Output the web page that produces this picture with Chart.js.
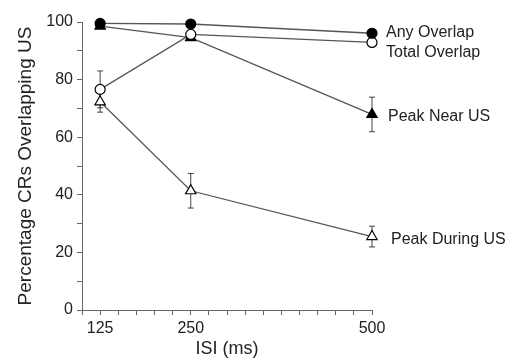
<!DOCTYPE html>
<html>
<head>
<meta charset="utf-8">
<script src="https://cdn.jsdelivr.net/npm/chart.js@4.4.1/dist/chart.umd.min.js"></script>
<style>
    body { margin: 0; background: #ffffff; }
    #grafico { display: block; }
</style>
</head>
<body>
<canvas id="grafico" width="508" height="361"></canvas>
<script>
var isi = [125, 250, 500];
var anyOverlap = [99.5, 99.3, 96.1];
var totalOverlap = [76.6, 95.7, 92.9];
var peakNear = [98.6, 94.6, 67.9];
var peakDuring = [72.3, 41.4, 25.5];

// error bars (sem)
var anyOverlapErr = [0, 0, 0];
var totalOverlapErr = [6.4, 0, 0];
var peakNearErr = [0, 0, 6.0];
var peakDuringErr = [3.6, 6.0, 3.6];

var nomesSeries = ['Any Overlap', 'Total Overlap', 'Peak Near US', 'Peak During US'];
var xTicksLabel = [125, 250, 500];
var yTicksLabel = [0, 20, 40, 60, 80, 100];

function pontos(valores) {
    return isi.map(function (x, i) {
        return { x: x, y: valores[i] };
    });
}

var corLinha = '#555555';
var corTexto = '#222222';

// draws the error bars behind the markers
var errorBars = {
    id: 'errorBars',
    beforeDatasetsDraw: function (chart) {
        var ctx = chart.ctx;
        var yScale = chart.scales.y;
        ctx.save();
        ctx.strokeStyle = '#444444';
        ctx.lineWidth = 1;
        chart.data.datasets.forEach(function (ds, d) {
            var meta = chart.getDatasetMeta(d);
            ds.erros.forEach(function (e, i) {
                if (!e) return;
                var px = meta.data[i].x;
                var y1 = yScale.getPixelForValue(ds.data[i].y + e);
                var y2 = yScale.getPixelForValue(ds.data[i].y - e);
                ctx.beginPath();
                ctx.moveTo(px, y1);
                ctx.lineTo(px, y2);
                ctx.moveTo(px - 3, y1);
                ctx.lineTo(px + 3, y1);
                ctx.moveTo(px - 3, y2);
                ctx.lineTo(px + 3, y2);
                ctx.stroke();
            });
        });
        ctx.restore();
    }
};

// series names to the right of the last point
var rotulos = {
    id: 'rotulos',
    afterDatasetsDraw: function (chart) {
        var ctx = chart.ctx;
        var deslocX = [14, 14, 16, 19];
        var deslocY = [-1, 10, 2, 3];
        ctx.save();
        ctx.font = '16px "Liberation Sans", Arial, sans-serif';
        ctx.fillStyle = corTexto;
        ctx.textAlign = 'left';
        ctx.textBaseline = 'middle';
        chart.data.datasets.forEach(function (ds, d) {
            var meta = chart.getDatasetMeta(d);
            var p = meta.data[meta.data.length - 1];
            ctx.fillText(nomesSeries[d], p.x + deslocX[d], p.y + deslocY[d]);
        });
        ctx.restore();
    }
};

function serie(valores, erros, estilo, preenchido, raio) {
    return {
        data: pontos(valores),
        erros: erros,
        borderColor: corLinha,
        borderWidth: 1.3,
        pointStyle: estilo,
        pointRadius: raio,
        pointBackgroundColor: preenchido ? '#000000' : '#ffffff',
        pointBorderColor: '#000000',
        pointBorderWidth: 1.2,
        fill: false,
        clip: false,
        tension: 0
    };
}

var ctx = document.getElementById('grafico').getContext('2d');
window.grafico = new Chart(ctx, {
    type: 'line',
    data: {
        datasets: [
            serie(anyOverlap, anyOverlapErr, 'circle', true, 5),
            serie(totalOverlap, totalOverlapErr, 'circle', false, 5),
            serie(peakNear, peakNearErr, 'triangle', true, 6),
            serie(peakDuring, peakDuringErr, 'triangle', false, 6)
        ]
    },
    options: {
        responsive: false,
        animation: false,
        devicePixelRatio: 1,
        layout: {
            padding: { left: 0, top: 22, right: 136, bottom: 0 }
        },
        plugins: {
            legend: { display: false },
            tooltip: { enabled: false }
        },
        scales: {
            x: {
                type: 'linear',
                min: 100,
                max: 500,
                afterFit: function (scale) { scale.height = 51; },
                border: { display: true, color: '#666666', width: 1 },
                grid: {
                    drawOnChartArea: false,
                    drawTicks: true,
                    tickLength: 5,
                    tickColor: '#666666'
                },
                ticks: {
                    stepSize: 25,
                    padding: 4,
                    color: corTexto,
                    maxRotation: 0,
                    autoSkip: false,
                    font: { size: 16, family: '"Liberation Sans", Arial, sans-serif' },
                    callback: function (v) {
                        return xTicksLabel.indexOf(v) >= 0 ? String(v) : '';
                    }
                },
                title: {
                    display: true,
                    text: 'ISI (ms)',
                    color: corTexto,
                    padding: { top: 0, bottom: 1 },
                    font: { size: 18, family: '"Liberation Sans", Arial, sans-serif' }
                }
            },
            y: {
                min: 0,
                max: 100,
                afterFit: function (scale) { scale.width = 82; },
                border: { display: true, color: '#666666', width: 1 },
                grid: {
                    drawOnChartArea: false,
                    drawTicks: true,
                    tickLength: 5,
                    tickColor: '#666666'
                },
                ticks: {
                    stepSize: 10,
                    padding: 4,
                    color: corTexto,
                    autoSkip: false,
                    font: { size: 16, family: '"Liberation Sans", Arial, sans-serif' },
                    callback: function (v) {
                        return yTicksLabel.indexOf(v) >= 0 ? String(v) : '';
                    }
                },
                title: {
                    display: true,
                    text: 'Percentage CRs Overlapping US',
                    color: corTexto,
                    padding: { top: 14, bottom: 0 },
                    font: { size: 19, family: '"Liberation Sans", Arial, sans-serif' }
                }
            }
        }
    },
    plugins: [errorBars, rotulos]
});
</script>
</body>
</html>
